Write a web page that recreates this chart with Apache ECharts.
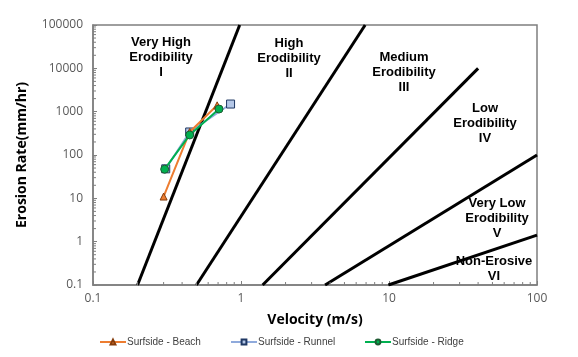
<!DOCTYPE html>
<html><head><meta charset="utf-8">
<script src="https://cdn.jsdelivr.net/npm/echarts@6/dist/echarts.min.js"></script>
<style>html,body{margin:0;padding:0;background:#fff}#c{width:578px;height:357px}</style>
</head><body><div id="c"></div>
<script>
// Series data: [velocity (m/s), erosion rate (mm/hr)]
const beachV = [0.30, 0.45, 0.69];
const beachE = [11, 340, 1400];
const runnelV = [0.31, 0.45, 0.85];
const runnelE = [48, 340, 1500];
const ridgeV = [0.305, 0.45, 0.71];
const ridgeE = [47, 290, 1150];

// Erodibility category boundary lines: start/end points
const bound1 = [[0.2, 0.1], [0.98, 100000]];
const bound2 = [[0.5, 0.1], [6.9, 100000]];
const bound3 = [[1.4, 0.1], [40, 10000]];
const bound4 = [[3.7, 0.1], [100, 100]];
const bound5 = [[9.9, 0.1], [100, 1.42]];

const xTickLabels = ['0.1', '1', '10', '100'];
const yTickLabels = ['0.1', '1', '10', '100', '1000', '10000', '100000'];

// minor tick values (axis decoration)
const xMinor = [];
const yMinor = [];
[0.1, 1, 10].forEach(d => { for (let k = 2; k <= 9; k++) xMinor.push(+(d * k).toPrecision(3)); });
[0.1, 1, 10, 100, 1000, 10000].forEach(d => { for (let k = 2; k <= 9; k++) yMinor.push(+(d * k).toPrecision(3)); });

const zoneLabels = [
  {text: 'Very High\nErodibility\nI', x: 161, y: 57},
  {text: 'High\nErodibility\nII', x: 289, y: 58},
  {text: 'Medium\nErodibility\nIII', x: 404, y: 72},
  {text: 'Low\nErodibility\nIV', x: 485, y: 123},
  {text: 'Very Low\nErodibility\nV', x: 497, y: 218},
  {text: 'Non-Erosive\nVI', x: 494, y: 269}
];

const zip = (a, b) => a.map((v, i) => [v, b[i]]);
const chart = echarts.init(document.getElementById('c'), null, {renderer: 'canvas'});

function boundSeries(pts) {
  return {type: 'line', data: pts, showSymbol: false, silent: true, z: 2,
    lineStyle: {color: '#000', width: 3}, legendHoverLink: false};
}

const axisLabelStyle = {color: '#595959', fontSize: 12, fontFamily: 'Open Sans, Liberation Sans, sans-serif'};

chart.setOption({
  animation: false,
  grid: {left: 93, top: 25, right: 41, bottom: 72, show: true, borderColor: '#7f7f7f', borderWidth: 1.5},
  xAxis: {
    type: 'log', logBase: 10, min: 0.1, max: 100,
    name: 'Velocity (m/s)', nameLocation: 'middle', nameGap: 28,
    nameTextStyle: {fontSize: 14, fontWeight: 'bold', color: '#000', fontFamily: 'Open Sans, sans-serif'},
    axisLine: {lineStyle: {color: '#7f7f7f', width: 1.5}},
    axisTick: {inside: true, length: 4, lineStyle: {color: '#7f7f7f'}},
    axisLabel: Object.assign({margin: 8, formatter: v => xTickLabels[Math.round(Math.log10(v)) + 1]}, axisLabelStyle),
    splitLine: {show: false}
  },
  yAxis: {
    type: 'log', logBase: 10, min: 0.1, max: 100000,
    name: 'Erosion Rate(mm/hr)', nameLocation: 'middle', nameGap: 64, nameRotate: 90,
    nameTextStyle: {fontSize: 14, fontWeight: 'bold', color: '#000', fontFamily: 'Open Sans, sans-serif'},
    axisLine: {lineStyle: {color: '#7f7f7f', width: 1.5}},
    axisTick: {inside: true, length: 4, lineStyle: {color: '#7f7f7f'}},
    axisLabel: Object.assign({margin: 10, formatter: v => yTickLabels[Math.round(Math.log10(v)) + 1]}, axisLabelStyle),
    splitLine: {show: false}
  },
  legend: [
    {data: ['Surfside - Beach'], left: 94, top: 332},
    {data: ['Surfside - Runnel'], left: 225, top: 332},
    {data: ['Surfside - Ridge'], left: 359, top: 332}
  ].map(l => Object.assign(l, {itemWidth: 26, itemHeight: 6, itemGap: 2,
    textStyle: {fontSize: 10, color: '#404040', padding: [0, 0, 0, -4], fontFamily: 'Liberation Sans Narrow, Liberation Sans, sans-serif'}})),
  graphic: zoneLabels.map(z => ({
    type: 'text', x: z.x, y: z.y, z: 10,
    style: {text: z.text, textAlign: 'center', textVerticalAlign: 'middle', lineHeight: 15,
      font: 'bold 13px "Liberation Sans", Arial, sans-serif', fill: '#000'}
  })),
  series: [
    boundSeries(bound1), boundSeries(bound2), boundSeries(bound3), boundSeries(bound4), boundSeries(bound5),
    {name: 'Surfside - Runnel', type: 'line', data: zip(runnelV, runnelE), z: 5,
      symbol: 'rect', symbolSize: 8, lineStyle: {color: '#8faadc', width: 2},
      itemStyle: {color: '#b4c7e7', borderColor: '#1f3864', borderWidth: 1}},
    {name: 'Surfside - Beach', type: 'line', data: zip(beachV, beachE), z: 6,
      symbol: 'triangle', symbolSize: 7, lineStyle: {color: '#ed7d31', width: 2},
      itemStyle: {color: '#ed7d31', borderColor: '#843c0c', borderWidth: 1}},
    {name: 'Surfside - Ridge', type: 'line', data: zip(ridgeV, ridgeE), z: 7,
      symbol: 'circle', symbolSize: 8, lineStyle: {color: '#00b050', width: 2},
      itemStyle: {color: '#00b050', borderColor: '#1e5a32', borderWidth: 1}},
    {type: 'custom', silent: true, z: 3, data: xMinor.map(v => [v, 0.1]),
      renderItem: (p, api) => {
        const pt = api.coord([api.value(0), api.value(1)]);
        return {type: 'line', shape: {x1: pt[0], y1: pt[1], x2: pt[0], y2: pt[1] - 3},
          style: {stroke: '#7f7f7f', lineWidth: 1}};
      }},
    {type: 'custom', silent: true, z: 3, data: yMinor.map(v => [0.1, v]),
      renderItem: (p, api) => {
        const pt = api.coord([api.value(0), api.value(1)]);
        return {type: 'line', shape: {x1: pt[0], y1: pt[1], x2: pt[0] + 3, y2: pt[1]},
          style: {stroke: '#7f7f7f', lineWidth: 1}};
      }}
  ]
});
</script></body></html>
